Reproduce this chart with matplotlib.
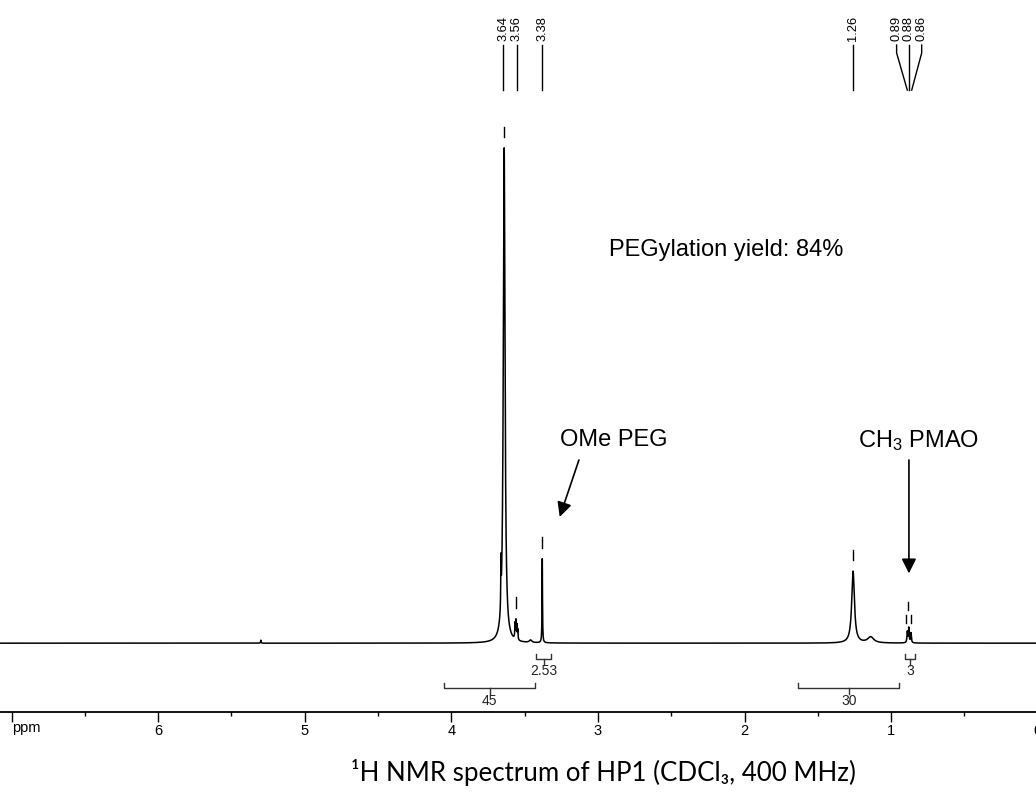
import matplotlib
matplotlib.use('Agg')
import matplotlib.pyplot as plt
import numpy as np

plt.rcParams['font.family'] = ['Liberation Sans', 'DejaVu Sans']
plt.rcParams['mathtext.fontset'] = 'custom'
plt.rcParams['mathtext.rm'] = 'Liberation Sans'
plt.rcParams['mathtext.it'] = 'Liberation Sans:italic'

# Peak list (ppm, relative height, half width in ppm)
peak_ppm = [3.640, 3.662, 3.566, 3.560, 3.553, 3.547, 3.460, 3.380,
            1.260, 1.140, 0.890, 0.880, 0.865, 5.300]
peak_height = [1.0, 0.09, 0.030, 0.036, 0.028, 0.020, 0.005, 0.170,
               0.145, 0.012, 0.022, 0.030, 0.020, 0.006]
peak_width = [0.007, 0.0015, 0.002, 0.002, 0.002, 0.002, 0.01, 0.0018,
              0.011, 0.025, 0.003, 0.003, 0.003, 0.002]

# Peak picking labels
pick_labels = ['3.64', '3.56', '3.38', '1.26', '0.89', '0.88', '0.86']
pick_ppm = [3.64, 3.56, 3.38, 1.26, 0.89, 0.88, 0.86]
pick_label_ppm = [3.645, 3.555, 3.38, 1.26, 0.963, 0.879, 0.792]

# Integrals: start ppm, end ppm, value, row
int_start = [4.05, 3.42, 1.634, 0.906]
int_end = [3.43, 3.32, 0.945, 0.838]
int_value = ['45', '2.53', '30', '3']
int_row = [1, 0, 1, 0]

ppm = np.linspace(7.2, -0.2, 60000)
spec = np.zeros_like(ppm)
for x0, h, g in zip(peak_ppm, peak_height, peak_width):
    spec += h * g**2 / ((ppm - x0)**2 + g**2)

fig = plt.figure(figsize=(10.36, 7.98), dpi=100)
ax = fig.add_axes([0, 86 / 798, 1046 / 1036, 712 / 798])
ax.set_xlim(7.079, -0.056)
ax.set_ylim(-0.139, 1.299)

ax.plot(ppm, spec, color='black', lw=1.1)

for s in ['top', 'left', 'right']:
    ax.spines[s].set_visible(False)
ax.spines['bottom'].set_linewidth(1.3)
ax.yaxis.set_visible(False)
ax.set_xticks([7, 6, 5, 4, 3, 2, 1, 0])
ax.set_xticklabels(['', '6', '5', '4', '3', '2', '1', '0'], fontsize=10.5)
ax.set_xticks(np.arange(0.5, 7, 1.0), minor=True)
ax.tick_params(axis='x', which='major', direction='out', length=7, width=1, pad=1.5)
ax.tick_params(axis='x', which='minor', direction='out', length=3, width=1)
ax.text(7.0, -0.172, 'ppm', fontsize=10.5, ha='left', va='center', clip_on=False)

# peak markers above each picked peak
def local_max(p, half=0.012):
    m = (ppm < p + half) & (ppm > p - half)
    return spec[m].max()

for p in [3.64, 3.558, 3.38, 1.26]:
    top = local_max(p)
    ax.plot([p, p], [top + 0.022, top + 0.043], color='black', lw=1)
ax.plot([0.885, 0.885], [0.067, 0.083], color='black', lw=1)
for p in [0.897, 0.863]:
    ax.plot([p, p], [0.040, 0.057], color='black', lw=1)

# peak pick labels at top
for lab, p, lp in zip(pick_labels, pick_ppm, pick_label_ppm):
    ax.text(lp, 1.216, lab, rotation=90, fontsize=9.3, ha='center', va='bottom')
    if abs(lp - p) < 0.01:
        ax.plot([lp, lp], [1.208, 1.117], color='black', lw=1)
    else:
        ax.plot([lp, lp, p], [1.208, 1.192, 1.117], color='black', lw=1)

# integrals
for a, b, v, r in zip(int_start, int_end, int_value, int_row):
    yl = -0.032 if r == 0 else -0.091
    ax.plot([a, a, b, b], [yl + 0.010, yl, yl, yl + 0.010], color='#333333', lw=1)
    mid = (a + b) / 2
    ax.plot([mid, mid], [yl, yl - 0.012], color='#333333', lw=1)
    ax.text(mid, yl - 0.011, v, fontsize=10, ha='center', va='top', color='#222222')

# annotations
ax.text(2.925, 0.794, 'PEGylation yield: 84%', fontsize=17, ha='left', va='center')
ax.text(3.26, 0.41, 'OMe PEG', fontsize=17, ha='left', va='center')
ax.annotate('', xy=(3.261, 0.255), xytext=(3.13, 0.370),
            arrowprops=dict(arrowstyle='-|>', color='black', lw=1.2,
                            mutation_scale=22, shrinkA=0, shrinkB=0))
ax.text(1.227, 0.41, 'CH$_3$ PMAO', fontsize=17, ha='left', va='center')
ax.annotate('', xy=(0.879, 0.141), xytext=(0.879, 0.370),
            arrowprops=dict(arrowstyle='-|>', color='black', lw=1.2,
                            mutation_scale=22, shrinkA=0, shrinkB=0))

fig.text(603 / 1036, 1 - 772 / 798, '¹H NMR spectrum of HP1 (CDCl₃, 400 MHz)',
         fontsize=18.6, ha='center', va='center', family=['Lato', 'DejaVu Sans'])

fig.savefig('out.png', dpi=100)
